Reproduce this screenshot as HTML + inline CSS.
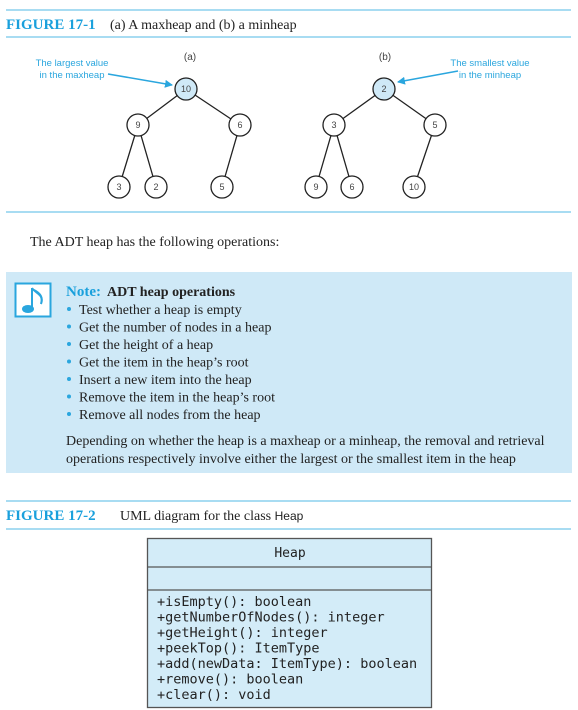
<!DOCTYPE html>
<html><head><meta charset="utf-8"><style>body{margin:0;background:#fff}svg{display:block}</style></head><body>
<svg width="578" height="710" xmlns="http://www.w3.org/2000/svg">
<defs><marker id="ar" markerWidth="8" markerHeight="8" refX="7" refY="4" orient="auto" markerUnits="userSpaceOnUse"><path d="M0,0L8,4L0,8z" fill="#2aa6de"/></marker></defs>
<g stroke="#a8dcf2" stroke-width="2"><line x1="6" y1="10" x2="571" y2="10"/><line x1="6" y1="37" x2="571" y2="37"/><line x1="6" y1="212" x2="571" y2="212"/><line x1="6" y1="501" x2="571" y2="501"/><line x1="6" y1="529" x2="571" y2="529"/></g>
<text x="6" y="29" font-family="Liberation Serif,serif" font-weight="bold" font-size="15" fill="#1aa0dc">FIGURE 17-1</text>
<text x="110" y="29" font-family="Liberation Serif,serif" font-size="14" fill="#222">(a) A maxheap and (b) a minheap</text>
<g font-family="Liberation Sans,sans-serif" font-size="10" fill="#444" text-anchor="middle"><text x="190" y="60">(a)</text><text x="385" y="60">(b)</text></g>
<g font-family="Liberation Sans,sans-serif" font-size="9.5" fill="#2aa6de" text-anchor="middle"><text x="72" y="66">The largest value</text><text x="72" y="78">in the maxheap</text><text x="490" y="66">The smallest value</text><text x="490" y="78">in the minheap</text></g>
<g stroke="#2aa6de" stroke-width="1.5"><line x1="108" y1="74" x2="172" y2="85" marker-end="url(#ar)"/><line x1="458" y1="71" x2="398" y2="82" marker-end="url(#ar)"/></g>
<g stroke="#222" stroke-width="1.3"><path d="M186,89L138,125M186,89L240,125M138,125L119,187M138,125L156,187M240,125L222,187M384,89L334,125M384,89L435,125M334,125L316,187M334,125L352,187M435,125L414,187"/></g>
<g stroke="#222" stroke-width="1.3" fill="#fff"><circle cx="186" cy="89" r="11" fill="#cfe9f7"/><circle cx="138" cy="125" r="11"/><circle cx="240" cy="125" r="11"/><circle cx="119" cy="187" r="11"/><circle cx="156" cy="187" r="11"/><circle cx="222" cy="187" r="11"/><circle cx="384" cy="89" r="11" fill="#cfe9f7"/><circle cx="334" cy="125" r="11"/><circle cx="435" cy="125" r="11"/><circle cx="316" cy="187" r="11"/><circle cx="352" cy="187" r="11"/><circle cx="414" cy="187" r="11"/></g>
<g font-family="Liberation Sans,sans-serif" font-size="9" fill="#444" text-anchor="middle"><text x="186" y="92">10</text><text x="138" y="128">9</text><text x="240" y="128">6</text><text x="119" y="190">3</text><text x="156" y="190">2</text><text x="222" y="190">5</text><text x="384" y="92">2</text><text x="334" y="128">3</text><text x="435" y="128">5</text><text x="316" y="190">9</text><text x="352" y="190">6</text><text x="414" y="190">10</text></g>
<text x="30" y="246" font-family="Liberation Serif,serif" font-size="14" fill="#222">The ADT heap has the following operations:</text>
<rect x="6" y="272" width="566" height="201" fill="#cfe9f7"/>
<rect x="15.5" y="283.5" width="35" height="33" fill="#fff" stroke="#2aa6de" stroke-width="2"/>
<path d="M32,288V309M32,288C36,294 44,294 41,304C44,296 38,292 34,290" stroke="#2aa6de" stroke-width="2" fill="none"/><ellipse cx="28" cy="309" rx="6" ry="4" fill="#2aa6de"/>
<text x="66" y="296" font-family="Liberation Serif,serif" font-size="15"><tspan fill="#1aa0dc" font-weight="bold">Note:</tspan><tspan fill="#222" font-weight="bold" font-size="14" dx="6">ADT heap operations</tspan></text>
<g font-family="Liberation Serif,serif" font-size="14" fill="#222">
<g fill="#2aa6de"><circle cx="69" cy="309" r="2"/><circle cx="69" cy="326.5" r="2"/><circle cx="69" cy="344" r="2"/><circle cx="69" cy="361.5" r="2"/><circle cx="69" cy="379" r="2"/><circle cx="69" cy="396.5" r="2"/><circle cx="69" cy="414" r="2"/></g>
<text x="79" y="314">Test whether a heap is empty</text><text x="79" y="331.5">Get the number of nodes in a heap</text><text x="79" y="349">Get the height of a heap</text><text x="79" y="366.5">Get the item in the heap’s root</text><text x="79" y="384">Insert a new item into the heap</text><text x="79" y="401.5">Remove the item in the heap’s root</text><text x="79" y="419">Remove all nodes from the heap</text>
<text x="66" y="445">Depending on whether the heap is a maxheap or a minheap, the removal and retrieval</text>
<text x="66" y="463">operations respectively involve either the largest or the smallest item in the heap</text></g>
<text x="6" y="520" font-family="Liberation Serif,serif" font-weight="bold" font-size="15" fill="#1aa0dc">FIGURE 17-2</text>
<text x="120" y="520" font-family="Liberation Serif,serif" font-size="14" fill="#222">UML diagram for the class <tspan font-family="Liberation Sans,sans-serif" font-size="12">Heap</tspan></text>
<rect x="147.5" y="538.5" width="284" height="169" fill="#d3ecf8" stroke="#555" stroke-width="1.3"/>
<line x1="147" y1="567" x2="432" y2="567" stroke="#555" stroke-width="1.3"/><line x1="147" y1="590" x2="432" y2="590" stroke="#555" stroke-width="1.3"/>
<text x="290" y="557" text-anchor="middle" font-family="DejaVu Sans Mono,monospace" font-size="13" fill="#222">Heap</text>
<g font-family="DejaVu Sans Mono,monospace" font-size="13.5" fill="#222">
<text x="157" y="606">+isEmpty(): boolean</text><text x="157" y="621.5">+getNumberOfNodes(): integer</text><text x="157" y="637">+getHeight(): integer</text><text x="157" y="652.5">+peekTop(): ItemType</text><text x="157" y="668">+add(newData: ItemType): boolean</text><text x="157" y="683.5">+remove(): boolean</text><text x="157" y="699">+clear(): void</text></g>
</svg>
</body></html>
